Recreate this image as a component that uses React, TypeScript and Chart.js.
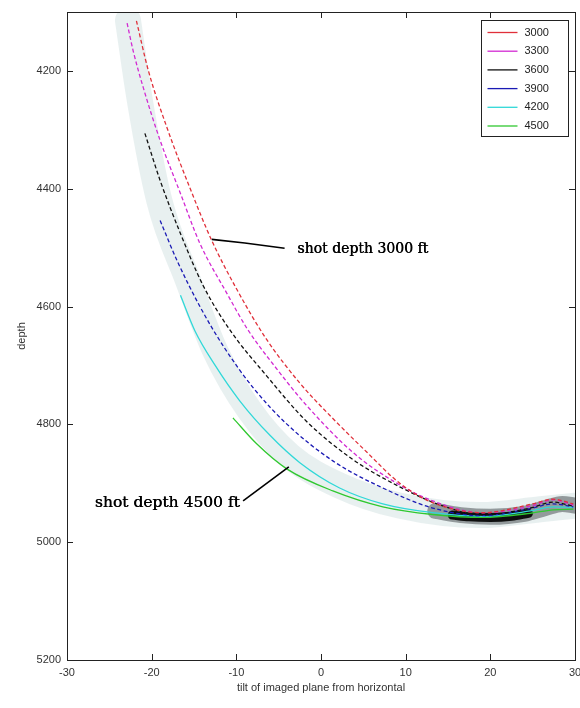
import { useEffect, useRef } from "react";
import { Chart, registerables } from "chart.js";

Chart.register(...registerables);

// x: tilt of imaged plane (deg), y: depth
const shot3000: [number, number][] = [
  [-21.8, 4115], [-20.4, 4199], [-18.2, 4296], [-15.5, 4398], [-12.9, 4488], [-9.9, 4572],
  [-6.6, 4652], [-2.5, 4730], [1.4, 4790], [5.4, 4847], [9.3, 4900], [13.2, 4933],
  [19.1, 4950], [25.0, 4935], [27.4, 4927], [29.8, 4935],
];
const shot3300: [number, number][] = [
  [-22.9, 4119], [-22.2, 4165], [-21.0, 4228], [-19.0, 4318], [-16.6, 4408], [-14.3, 4493],
  [-11.1, 4578], [-8.7, 4638], [-5.0, 4710], [-1.7, 4768], [3.8, 4848], [8.5, 4896], [13.2, 4930],
  [19.1, 4950], [25.0, 4938], [27.4, 4928], [29.8, 4937],
];
const shot3600: [number, number][] = [
  [-20.8, 4306], [-19.0, 4386], [-16.6, 4476], [-13.9, 4565], [-10.7, 4641], [-6.4, 4718],
  [-1.7, 4795], [3.8, 4860], [9.3, 4906], [14.1, 4937], [19.1, 4954], [24.7, 4942],
  [27.4, 4932], [29.8, 4939],
];
const shot3900: [number, number][] = [
  [-19.0, 4454], [-17.0, 4522], [-14.3, 4600], [-11.5, 4668], [-8.0, 4738], [-4.0, 4800],
  [1.4, 4862], [7.3, 4908], [13.2, 4942], [19.1, 4955], [24.7, 4943], [27.4, 4935], [29.8, 4940],
];
const shot4200: [number, number][] = [
  [-16.6, 4581], [-14.9, 4641], [-12.5, 4700], [-9.6, 4760], [-6.0, 4819], [-2.5, 4865],
  [2.2, 4908], [7.3, 4935], [13.2, 4950], [19.1, 4956], [24.7, 4947], [27.4, 4940], [29.8, 4941],
];
const shot4500: [number, number][] = [
  [-10.4, 4789], [-7.6, 4833], [-4.0, 4876], [1.4, 4913], [7.3, 4940], [13.2, 4953],
  [19.1, 4958], [24.7, 4951], [27.4, 4945], [29.8, 4944],
];
// smeared migrated image behind the curves
const imageSmear: [number, number][] = [
  [-22.8, 4114], [-21.4, 4250], [-19.1, 4420], [-15.7, 4556], [-12.5, 4675], [-8.4, 4777],
  [-3.7, 4853], [2.2, 4904], [9.3, 4938], [18.8, 4954], [25.9, 4944], [30.0, 4938],
];
const imageHalo: [number, number][] = [
  [13.5, 4947], [16.5, 4954], [20.0, 4957], [24.0, 4952], [26.5, 4942], [28.5, 4935], [30.0, 4938],
];
const imageCore: [number, number][] = [
  [15.5, 4954], [17.5, 4957], [20.0, 4958], [22.5, 4956], [24.5, 4951],
];

const seriesLabels = ["3000", "3300", "3600", "3900", "4200", "4500"];
const seriesColors = ["#e0303a", "#d22ad2", "#111111", "#1a1ab4", "#30d8d8", "#30c830"];
const seriesDashed = [true, true, true, true, false, false];
const xTicks = [-30, -20, -10, 0, 10, 20, 30];
const yTicks = [4200, 4400, 4600, 4800, 5000, 5200];
const yTickLabels = ["4200", "4400", "4600", "4800", "5000", "5200"];
const annotations = [
  { text: "shot depth 3000 ft", line: [[-12.9, 4486], [-9.0, 4492], [-4.3, 4501]], tx: -2.8, ty: 4503, align: "left", size: 14 },
  { text: "shot depth 4500 ft", line: [[-9.2, 4930], [-3.8, 4872]], tx: -9.6, ty: 4933, align: "right", size: 15.5 },
];

const toXY = (arr: [number, number][]) => arr.map(([x, y]) => ({ x, y }));

const framePlugin = {
  id: "frame",
  afterDatasetsDraw(chart: any) {
    const { ctx, chartArea: a, scales } = chart;
    const xs = scales.x, ys = scales.y;
    ctx.save();
    // annotations
    annotations.forEach((an) => {
      ctx.strokeStyle = "#000";
      ctx.lineWidth = 1.6;
      ctx.beginPath();
      an.line.forEach(([x, y], i) => {
        const px = xs.getPixelForValue(x), py = ys.getPixelForValue(y);
        if (i === 0) ctx.moveTo(px, py); else ctx.lineTo(px, py);
      });
      ctx.stroke();
      ctx.fillStyle = "#000";
      ctx.font = `${an.size}px 'DejaVu Serif'`;
      ctx.textAlign = an.align as CanvasTextAlign;
      ctx.textBaseline = "middle";
      ctx.fillText(an.text, xs.getPixelForValue(an.tx), ys.getPixelForValue(an.ty));
      ctx.fillText(an.text, xs.getPixelForValue(an.tx) + 0.4, ys.getPixelForValue(an.ty));
    });
    // frame
    ctx.strokeStyle = "#222";
    ctx.lineWidth = 1;
    ctx.strokeRect(Math.round(a.left) + 0.5, Math.round(a.top) + 0.5, Math.round(a.right - a.left), Math.round(a.bottom - a.top));
    // inward ticks
    ctx.beginPath();
    xTicks.forEach((v) => {
      const px = Math.round(xs.getPixelForValue(v)) + 0.5;
      ctx.moveTo(px, a.bottom); ctx.lineTo(px, a.bottom - 6);
      ctx.moveTo(px, a.top); ctx.lineTo(px, a.top + 6);
    });
    yTicks.forEach((v) => {
      const py = Math.round(ys.getPixelForValue(v)) + 0.5;
      ctx.moveTo(a.left, py); ctx.lineTo(a.left + 6, py);
      ctx.moveTo(a.right, py); ctx.lineTo(a.right - 6, py);
    });
    ctx.stroke();
    // legend
    const lw = 87, lh = 116;
    const lx = Math.round(a.right - 94) + 0.5, ly = Math.round(a.top + 8) + 0.5;
    ctx.fillStyle = "#fff";
    ctx.fillRect(lx, ly, lw, lh);
    ctx.strokeStyle = "#222";
    ctx.strokeRect(lx, ly, lw, lh);
    ctx.font = "11px 'Liberation Sans'";
    ctx.textAlign = "left";
    ctx.textBaseline = "middle";
    seriesLabels.forEach((lab, i) => {
      const y = ly + 12 + i * 18.7;
      ctx.strokeStyle = seriesColors[i];
      ctx.lineWidth = 1.3;
      ctx.beginPath();
      ctx.moveTo(lx + 6, y); ctx.lineTo(lx + 36, y);
      ctx.stroke();
      ctx.fillStyle = "#222";
      ctx.fillText(lab, lx + 43, y);
    });
    ctx.restore();
  },
};

export default function App() {
  const ref = useRef<HTMLCanvasElement>(null);
  useEffect(() => {
    document.body.style.margin = "0";
    const series = [shot3000, shot3300, shot3600, shot3900, shot4200, shot4500];
    const datasets: any[] = series.map((s, i) => ({
      label: seriesLabels[i],
      data: toXY(s),
      borderColor: seriesColors[i],
      borderWidth: 1.3,
      borderDash: seriesDashed[i] ? [4, 2.5] : [],
      pointRadius: 0,
      cubicInterpolationMode: "monotone",
      fill: false,
      order: i,
    }));
    datasets.push({
      label: "",
      data: toXY(imageSmear),
      borderColor: "rgba(185,208,208,0.32)",
      borderWidth: 26,
      pointRadius: 0,
      cubicInterpolationMode: "monotone",
      borderCapStyle: "round",
      order: 20,
    });
    datasets.push({
      label: "",
      data: toXY(imageHalo),
      borderColor: "rgba(20,25,30,0.4)",
      borderWidth: 16,
      pointRadius: 0,
      cubicInterpolationMode: "monotone",
      borderCapStyle: "round",
      order: 19,
    });
    datasets.push({
      label: "",
      data: toXY(imageCore),
      borderColor: "rgba(0,0,0,0.9)",
      borderWidth: 9,
      pointRadius: 0,
      cubicInterpolationMode: "monotone",
      borderCapStyle: "round",
      order: 18,
    });
    const chart = new Chart(ref.current!, {
      type: "line",
      data: { datasets },
      plugins: [framePlugin],
      options: {
        animation: false,
        responsive: false,
        devicePixelRatio: 1,
        layout: { padding: { left: 0, right: 5, top: 12, bottom: 0 } },
        plugins: { legend: { display: false }, tooltip: { enabled: false } },
        scales: {
          x: {
            type: "linear",
            min: -30,
            max: 30,
            afterBuildTicks: (s: any) => { s.ticks = xTicks.map((v) => ({ value: v })); },
            afterFit: (s: any) => { s.height = 48; s.paddingLeft = 0; s.paddingRight = 0; },
            grid: { display: false, drawTicks: false, tickLength: 0 },
            border: { display: false },
            ticks: { padding: 6, color: "#333", font: { family: "Liberation Sans", size: 11 }, maxRotation: 0, autoSkip: false },
            title: { display: true, text: "tilt of imaged plane from horizontal", color: "#333", font: { family: "Liberation Sans", size: 11 }, padding: { top: 0, bottom: 13 } },
          },
          y: {
            type: "linear",
            min: 4100,
            max: 5200,
            reverse: true,
            afterBuildTicks: (s: any) => { s.ticks = yTicks.map((v) => ({ value: v })); },
            afterFit: (s: any) => { s.width = 67; s.paddingTop = 0; s.paddingBottom = 0; },
            grid: { display: false, drawTicks: false, tickLength: 0 },
            border: { display: false },
            ticks: {
              padding: 6,
              color: "#333",
              font: { family: "Liberation Sans", size: 11 },
              autoSkip: false,
              callback: (v: any) => { const i = yTicks.indexOf(Number(v)); return i >= 0 ? yTickLabels[i] : ""; },
            },
            title: { display: true, text: "depth", color: "#333", font: { family: "Liberation Sans", size: 11 }, padding: { top: 15, bottom: 0 } },
          },
        },
      },
    });
    return () => chart.destroy();
  }, []);
  return (
    <div style={{ width: 580, height: 708, background: "#fff" }}>
      <canvas ref={ref} width={580} height={708} />
    </div>
  );
}
